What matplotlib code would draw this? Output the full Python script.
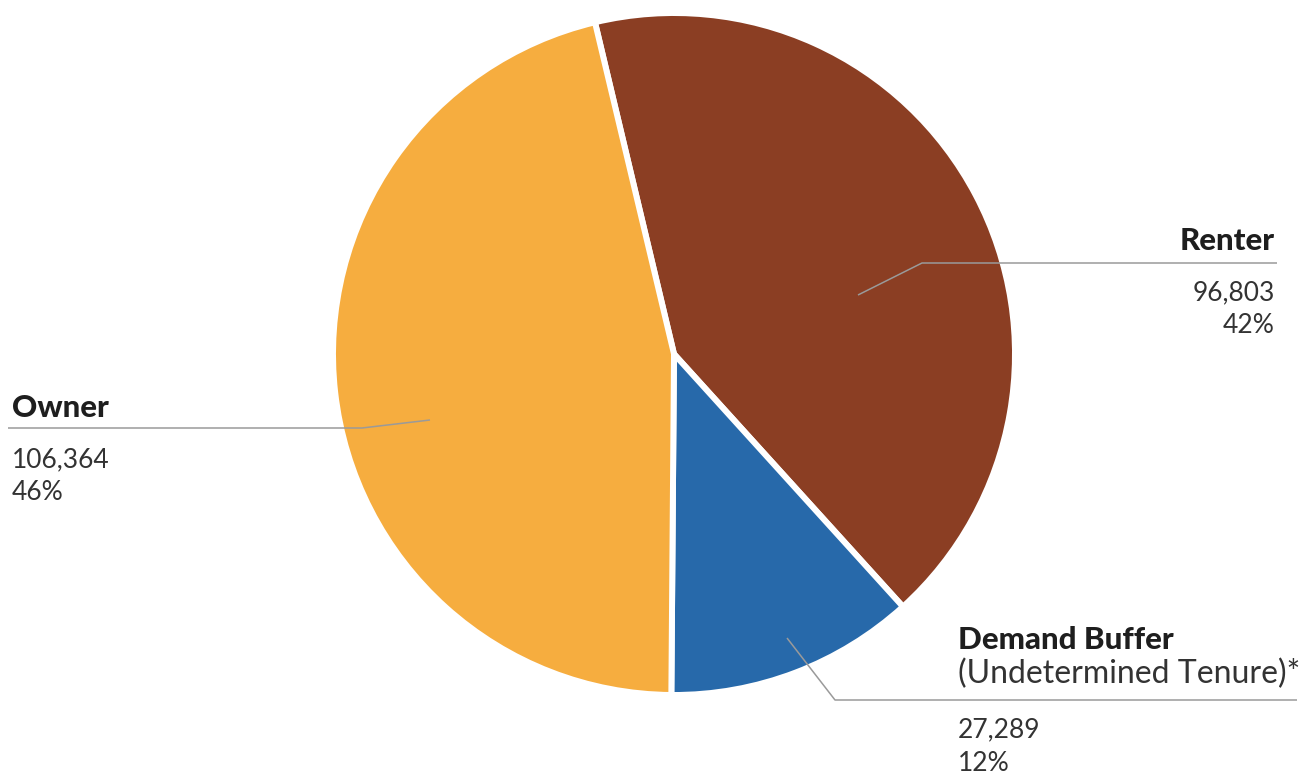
import matplotlib.pyplot as plt

# Data
labels = ['Renter', 'Demand Buffer', 'Owner']
sublabels = ['', '(Undetermined Tenure)*', '']
values = [96803, 27289, 106364]
colors = ['#8B3E23', '#2769AA', '#F6AD3F']

W, H = 1309, 774
fig = plt.figure(figsize=(W / 100, H / 100), dpi=100)
ax = fig.add_axes([0, 0, 1, 1])

# pixel-space helper (y measured from top)
def P(x, y):
    return x, H - y

total = sum(values)
start = 90 + 13.4
ax.pie(values, colors=colors, startangle=start, counterclock=False,
       center=P(674, 354), radius=341, frame=True,
       wedgeprops=dict(edgecolor='white', linewidth=4.3))
ax.set_xlim(0, W)
ax.set_ylim(0, H)
ax.set_aspect('equal')
ax.axis('off')

font = 'Lato'
line_kw = dict(color='#9a9a9a', lw=1.1, solid_capstyle='butt')
bold_kw = dict(fontfamily=font, fontweight='black', fontsize=22.5, color='#1e1e1e')
num_kw = dict(fontfamily=font, fontsize=19, color='#333333')
sub_kw = dict(fontfamily=font, fontsize=23, color='#333333')

pct = [f'{round(v / total * 100):.0f}%' for v in values]
nums = [f'{v:,}' for v in values]

# Renter
ax.plot(*zip(P(858, 295), P(922, 263), P(1277, 263)), **line_kw)
ax.text(*P(1275, 250), labels[0], ha='right', va='baseline', **bold_kw)
ax.text(*P(1275, 300), nums[0], ha='right', va='baseline', **num_kw)
ax.text(*P(1275, 333), pct[0], ha='right', va='baseline', **num_kw)

# Owner
ax.plot(*zip(P(430, 420), P(362, 428), P(8, 428)), **line_kw)
ax.text(*P(12, 417), labels[2], ha='left', va='baseline', **bold_kw)
ax.text(*P(12, 467), nums[2], ha='left', va='baseline', **num_kw)
ax.text(*P(12, 500), pct[2], ha='left', va='baseline', **num_kw)

# Demand Buffer
ax.plot(*zip(P(787, 638), P(835, 700), P(1297, 700)), **line_kw)
ax.text(*P(958, 649), labels[1], ha='left', va='baseline', **bold_kw)
ax.text(*P(958, 683), sublabels[1], ha='left', va='baseline', **sub_kw)
ax.text(*P(958, 737), nums[1], ha='left', va='baseline', **num_kw)
ax.text(*P(958, 771), pct[1], ha='left', va='baseline', **num_kw)

fig.savefig('out.png', dpi=100, facecolor='white')
